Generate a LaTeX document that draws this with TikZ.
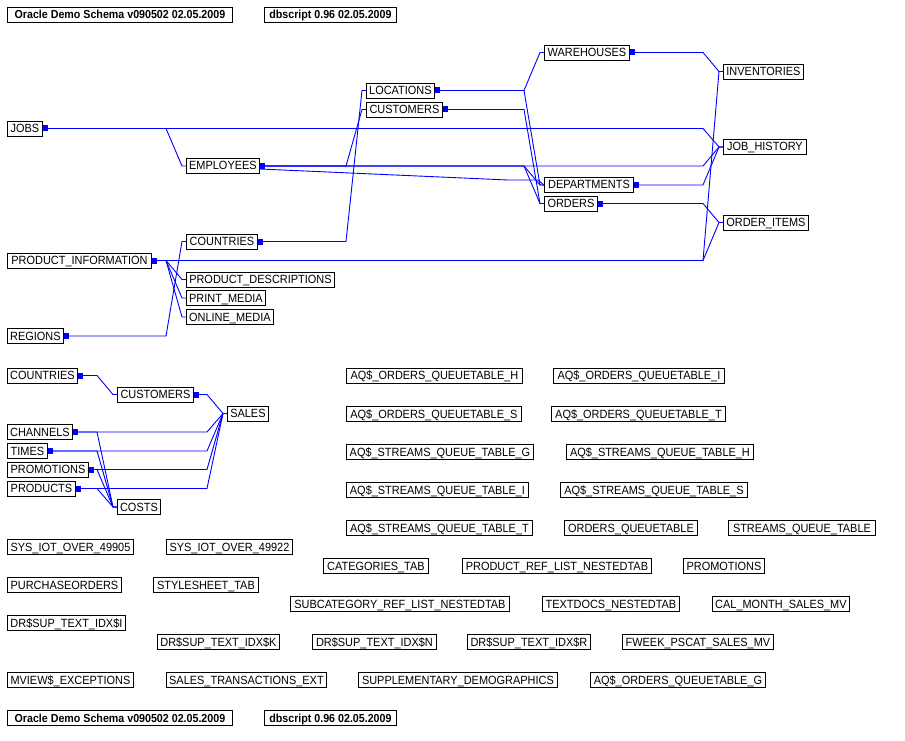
\documentclass[tikz,border=0pt]{standalone}
\usepackage{fontspec}
\newfontfamily\arialf[FakeStretch=0.92]{Liberation Sans}
\usetikzlibrary{calc}
\tikzset{
  tbl/.style={draw=black, line width=0.9pt, anchor=west, minimum height=15pt,
    inner xsep=0.5pt, inner ysep=0pt, fill=white, text height=8.5pt, text depth=0.5pt,
    font=\arialf\fontsize{11.9}{13}\selectfont},
  hdr/.style={tbl, font=\arialf\bfseries\fontsize{11.6}{13}\selectfont},
  fk/.style={draw=blue, line width=0.9pt, line join=miter},
}
\newcommand\fk[2]{\draw[fk] (#1.east) -- ($(#1.east -| #2.west)+(-20,0)$) -- ($(#2.west)+(-4,0)$) -- (#2.west);}
\newcommand\mk[1]{\fill[blue] ($(#1.east)+(0,-3)$) rectangle ($(#1.east)+(5,3)$);}
\begin{document}
\begin{tikzpicture}[x=1pt,y=-1pt]
\useasboundingbox (0,0) rectangle (905,741);
\fill[white] (0,0) rectangle (905,741);
% headers
\node[hdr,minimum width=225pt] (h1) at (7,15) {Oracle Demo Schema v090502 02.05.2009};
\node[hdr,minimum width=132pt] (h2) at (264,15) {dbscript 0.96 02.05.2009};
\node[hdr,minimum width=225pt] (h3) at (7,718) {Oracle Demo Schema v090502 02.05.2009};
\node[hdr,minimum width=132pt] (h4) at (264,718) {dbscript 0.96 02.05.2009};
% top cluster
\node[tbl,minimum width=35pt] (jobs) at (7,128.5) {JOBS};
\node[tbl,minimum width=73pt] (emp) at (186,166) {EMPLOYEES};
\node[tbl,minimum width=68pt] (loc) at (366,90.5) {LOCATIONS};
\node[tbl,minimum width=76pt] (cust) at (366,109.5) {CUSTOMERS};
\node[tbl,minimum width=85pt] (wh) at (544,52.5) {WAREHOUSES};
\node[tbl,minimum width=80pt] (inv) at (723,71.5) {INVENTORIES};
\node[tbl,minimum width=83pt] (jh) at (723,147) {JOB\_HISTORY};
\node[tbl,minimum width=85pt] (oi) at (723,222.5) {ORDER\_ITEMS};
\node[tbl,minimum width=89pt] (dep) at (544,185) {DEPARTMENTS};
\node[tbl,minimum width=53pt] (ord) at (544,203.5) {ORDERS};
\node[tbl,minimum width=71pt] (ctry) at (186,241.5) {COUNTRIES};
\node[tbl,minimum width=144pt] (pi) at (7,260.5) {PRODUCT\_INFORMATION};
\node[tbl,minimum width=148pt] (pd) at (186,279.5) {PRODUCT\_DESCRIPTIONS};
\node[tbl,minimum width=79pt] (pm) at (186,298) {PRINT\_MEDIA};
\node[tbl,minimum width=87pt] (om) at (186,317) {ONLINE\_MEDIA};
\node[tbl,minimum width=56pt] (reg) at (7,336) {REGIONS};
% lower cluster
\node[tbl,minimum width=70pt] (lctry) at (7,375.5) {COUNTRIES};
\node[tbl,minimum width=76pt] (lcust) at (117,394.5) {CUSTOMERS};
\node[tbl,minimum width=41pt] (sales) at (227,413.5) {SALES};
\node[tbl,minimum width=65pt] (chan) at (7,432) {CHANNELS};
\node[tbl,minimum width=40pt] (times) at (7,451) {TIMES};
\node[tbl,minimum width=81pt] (promos) at (7,469.5) {PROMOTIONS};
\node[tbl,minimum width=68pt] (prods) at (7,488.5) {PRODUCTS};
\node[tbl,minimum width=43pt] (costs) at (117,507) {COSTS};
% standalone tables
\node[tbl,minimum width=176pt] (aqh) at (346,375.5) {AQ\$\_ORDERS\_QUEUETABLE\_H};
\node[tbl,minimum width=171pt] (aqi) at (553,375.5) {AQ\$\_ORDERS\_QUEUETABLE\_I};
\node[tbl,minimum width=175pt] (aqs) at (346,414) {AQ\$\_ORDERS\_QUEUETABLE\_S};
\node[tbl,minimum width=174pt] (aqt) at (551,414) {AQ\$\_ORDERS\_QUEUETABLE\_T};
\node[tbl,minimum width=187pt] (sqg) at (346,452) {AQ\$\_STREAMS\_QUEUE\_TABLE\_G};
\node[tbl,minimum width=187pt] (sqh) at (566,452) {AQ\$\_STREAMS\_QUEUE\_TABLE\_H};
\node[tbl,minimum width=182pt] (sqi) at (346,490) {AQ\$\_STREAMS\_QUEUE\_TABLE\_I};
\node[tbl,minimum width=187pt] (sqs) at (560,490) {AQ\$\_STREAMS\_QUEUE\_TABLE\_S};
\node[tbl,minimum width=186pt] (sqt) at (346,528) {AQ\$\_STREAMS\_QUEUE\_TABLE\_T};
\node[tbl,minimum width=133pt] (oq) at (564,528) {ORDERS\_QUEUETABLE};
\node[tbl,minimum width=147pt] (sq) at (728,528) {STREAMS\_QUEUE\_TABLE};
\node[tbl,minimum width=126pt] (sys1) at (7,547) {SYS\_IOT\_OVER\_49905};
\node[tbl,minimum width=126pt] (sys2) at (166,547) {SYS\_IOT\_OVER\_49922};
\node[tbl,minimum width=105pt] (cat) at (323,566) {CATEGORIES\_TAB};
\node[tbl,minimum width=189pt] (prl) at (462,566) {PRODUCT\_REF\_LIST\_NESTEDTAB};
\node[tbl,minimum width=81pt] (promo) at (683,566) {PROMOTIONS};
\node[tbl,minimum width=114pt] (po) at (7,585) {PURCHASEORDERS};
\node[tbl,minimum width=105pt] (style) at (153,585) {STYLESHEET\_TAB};
\node[tbl,minimum width=219pt] (sub) at (290,604) {SUBCATEGORY\_REF\_LIST\_NESTEDTAB};
\node[tbl,minimum width=137pt] (tdn) at (542,604) {TEXTDOCS\_NESTEDTAB};
\node[tbl,minimum width=137pt] (cal) at (712,604) {CAL\_MONTH\_SALES\_MV};
\node[tbl,minimum width=118pt] (dri) at (7,623) {DR\$SUP\_TEXT\_IDX\$I};
\node[tbl,minimum width=122pt] (drk) at (157,642) {DR\$SUP\_TEXT\_IDX\$K};
\node[tbl,minimum width=124pt] (drn) at (312,642) {DR\$SUP\_TEXT\_IDX\$N};
\node[tbl,minimum width=123pt] (drr) at (467,642) {DR\$SUP\_TEXT\_IDX\$R};
\node[tbl,minimum width=151pt] (fweek) at (622,642) {FWEEK\_PSCAT\_SALES\_MV};
\node[tbl,minimum width=126pt] (mview) at (7,680) {MVIEW\$\_EXCEPTIONS};
\node[tbl,minimum width=160pt] (ste) at (166,680) {SALES\_TRANSACTIONS\_EXT};
\node[tbl,minimum width=199pt] (supp) at (358,680) {SUPPLEMENTARY\_DEMOGRAPHICS};
\node[tbl,minimum width=175pt] (aqg) at (590,680) {AQ\$\_ORDERS\_QUEUETABLE\_G};
% connectors, top cluster
\fk{jobs}{emp}
\fk{jobs}{jh}
\fk{emp}{cust}
\fk{emp}{dep}
\fk{emp}{ord}
\fk{emp}{jh}
\draw[fk] ($(emp.east)+(0,3)$) -- ($(dep.west)+(-36,-5)$) -- ($(dep.west)+(-6,-5)$) -- (dep.west);
\fk{loc}{wh}
\fk{loc}{dep}
\fk{cust}{ord}
\fk{wh}{inv}
\fk{dep}{jh}
\fk{ord}{oi}
\fk{ctry}{loc}
\fk{reg}{ctry}
\fk{pi}{pd}
\fk{pi}{pm}
\fk{pi}{om}
\fk{pi}{inv}
\fk{pi}{oi}
% connectors, lower cluster
\fk{lctry}{lcust}
\fk{lcust}{sales}
\fk{chan}{sales}
\fk{times}{sales}
\fk{promos}{sales}
\fk{prods}{sales}
\fk{chan}{costs}
\fk{times}{costs}
\fk{promos}{costs}
\fk{prods}{costs}
% key markers
\mk{jobs}\mk{emp}\mk{loc}\mk{cust}\mk{wh}\mk{dep}\mk{ord}\mk{ctry}\mk{pi}\mk{reg}
\mk{lctry}\mk{lcust}\mk{chan}\mk{times}\mk{promos}\mk{prods}
\end{tikzpicture}
\end{document}
